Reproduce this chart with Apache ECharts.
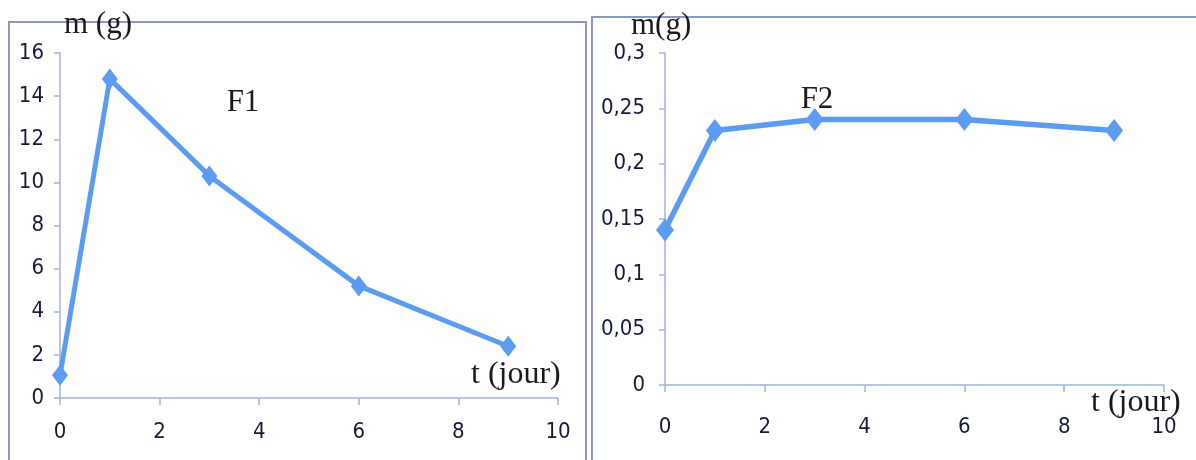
<!DOCTYPE html>
<html>
<head>
<meta charset="utf-8">
<script src="https://cdn.jsdelivr.net/npm/echarts@6/dist/echarts.min.js"></script>
<style>
html,body{margin:0;padding:0;background:#fff;}
#c{width:1196px;height:460px;}
</style>
</head>
<body>
<div id="c"></div>
<script>
// Data
const days = [0, 1, 3, 6, 9];
const massF1 = [1.05, 14.8, 10.3, 5.2, 2.4];
const massF2 = [0.14, 0.23, 0.24, 0.24, 0.23];
const f2TickLabels = ['0', '0,05', '0,1', '0,15', '0,2', '0,25', '0,3'];
const yTitle1 = 'm (g)';
const yTitle2 = 'm(g)';
const xTitle = 't (jour)';
const seriesNames = ['F1', 'F2'];

const lineColor = '#5b9cf0';
const axisColor = '#a3b3d2';
const labelColor = '#161c38';
const tickFont = '"Liberation Sans Narrow", "DejaVu Sans Condensed", sans-serif';
const serif = '"Liberation Serif", "Times New Roman", serif';

const chart = echarts.init(document.getElementById('c'), null, {renderer: 'canvas'});

function xAxisCfg(gridIndex, margin) {
  return {
    type: 'value', gridIndex: gridIndex, min: 0, max: 10, interval: 2,
    axisLine: {show: true, lineStyle: {color: axisColor, width: 1.5}},
    axisTick: {show: true, inside: false, length: 7, lineStyle: {color: axisColor, width: 1.5}},
    axisLabel: {color: labelColor, fontFamily: tickFont, fontSize: 22, margin: margin},
    splitLine: {show: false}
  };
}

const option = {
  animation: false,
  backgroundColor: '#ffffff',
  grid: [
    {left: 60, right: 1196 - 558, top: 53, bottom: 460 - 398},
    {left: 665, right: 1196 - 1164, top: 53, bottom: 460 - 385}
  ],
  xAxis: [xAxisCfg(0, 23), xAxisCfg(1, 31)],
  yAxis: [
    {
      type: 'value', gridIndex: 0, min: 0, max: 16, interval: 2,
      axisLine: {show: true, lineStyle: {color: axisColor, width: 1.5}},
      axisTick: {show: true, length: 6, lineStyle: {color: axisColor, width: 1.5}},
      axisLabel: {color: labelColor, fontFamily: tickFont, fontSize: 22, margin: 16},
      splitLine: {show: false}
    },
    {
      type: 'value', gridIndex: 1, min: 0, max: 0.3, interval: 0.05,
      axisLine: {show: true, lineStyle: {color: axisColor, width: 1.5}},
      axisTick: {show: true, length: 6, lineStyle: {color: axisColor, width: 1.5}},
      axisLabel: {
        color: labelColor, fontFamily: tickFont, fontSize: 22, margin: 20,
        formatter: function (v) { return f2TickLabels[Math.round(v / 0.05)]; }
      },
      splitLine: {show: false}
    }
  ],
  series: [
    {
      name: seriesNames[0], type: 'line', xAxisIndex: 0, yAxisIndex: 0,
      data: days.map((d, i) => [d, massF1[i]]),
      symbol: 'diamond', symbolSize: [16, 21],
      lineStyle: {color: lineColor, width: 5},
      itemStyle: {color: lineColor},
      z: 3
    },
    {
      name: seriesNames[1], type: 'line', xAxisIndex: 1, yAxisIndex: 1,
      data: days.map((d, i) => [d, massF2[i]]),
      symbol: 'diamond', symbolSize: [18, 23],
      lineStyle: {color: lineColor, width: 5.5},
      itemStyle: {color: lineColor},
      z: 3
    }
  ],
  graphic: [
    {type: 'rect', shape: {x: 9, y: 22, width: 577, height: 500}, style: {fill: 'none', stroke: '#8e98b8', lineWidth: 2}, z: 0},
    {type: 'rect', shape: {x: 592, y: 17, width: 700, height: 500}, style: {fill: 'none', stroke: '#8e98b8', lineWidth: 2}, z: 0},
    {type: 'text', x: 64, y: 25, z: 10, style: {text: yTitle1, font: '31px ' + serif, fill: '#1a1a1a', textAlign: 'left', textVerticalAlign: 'middle'}},
    {type: 'text', x: 243, y: 103, z: 10, style: {text: seriesNames[0], font: '31px ' + serif, fill: '#1a1a1a', textAlign: 'center', textVerticalAlign: 'middle'}},
    {type: 'text', x: 471, y: 375, z: 10, style: {text: xTitle, font: '32px ' + serif, fill: '#1a1a1a', textAlign: 'left', textVerticalAlign: 'middle'}},
    {type: 'text', x: 631, y: 26, z: 10, style: {text: yTitle2, font: '31px ' + serif, fill: '#1a1a1a', textAlign: 'left', textVerticalAlign: 'middle'}},
    {type: 'text', x: 817, y: 100, z: 10, style: {text: seriesNames[1], font: '31px ' + serif, fill: '#1a1a1a', textAlign: 'center', textVerticalAlign: 'middle'}},
    {type: 'text', x: 1091, y: 403, z: 10, style: {text: xTitle, font: '32px ' + serif, fill: '#1a1a1a', textAlign: 'left', textVerticalAlign: 'middle'}}
  ]
};
chart.setOption(option);
</script>
</body>
</html>
